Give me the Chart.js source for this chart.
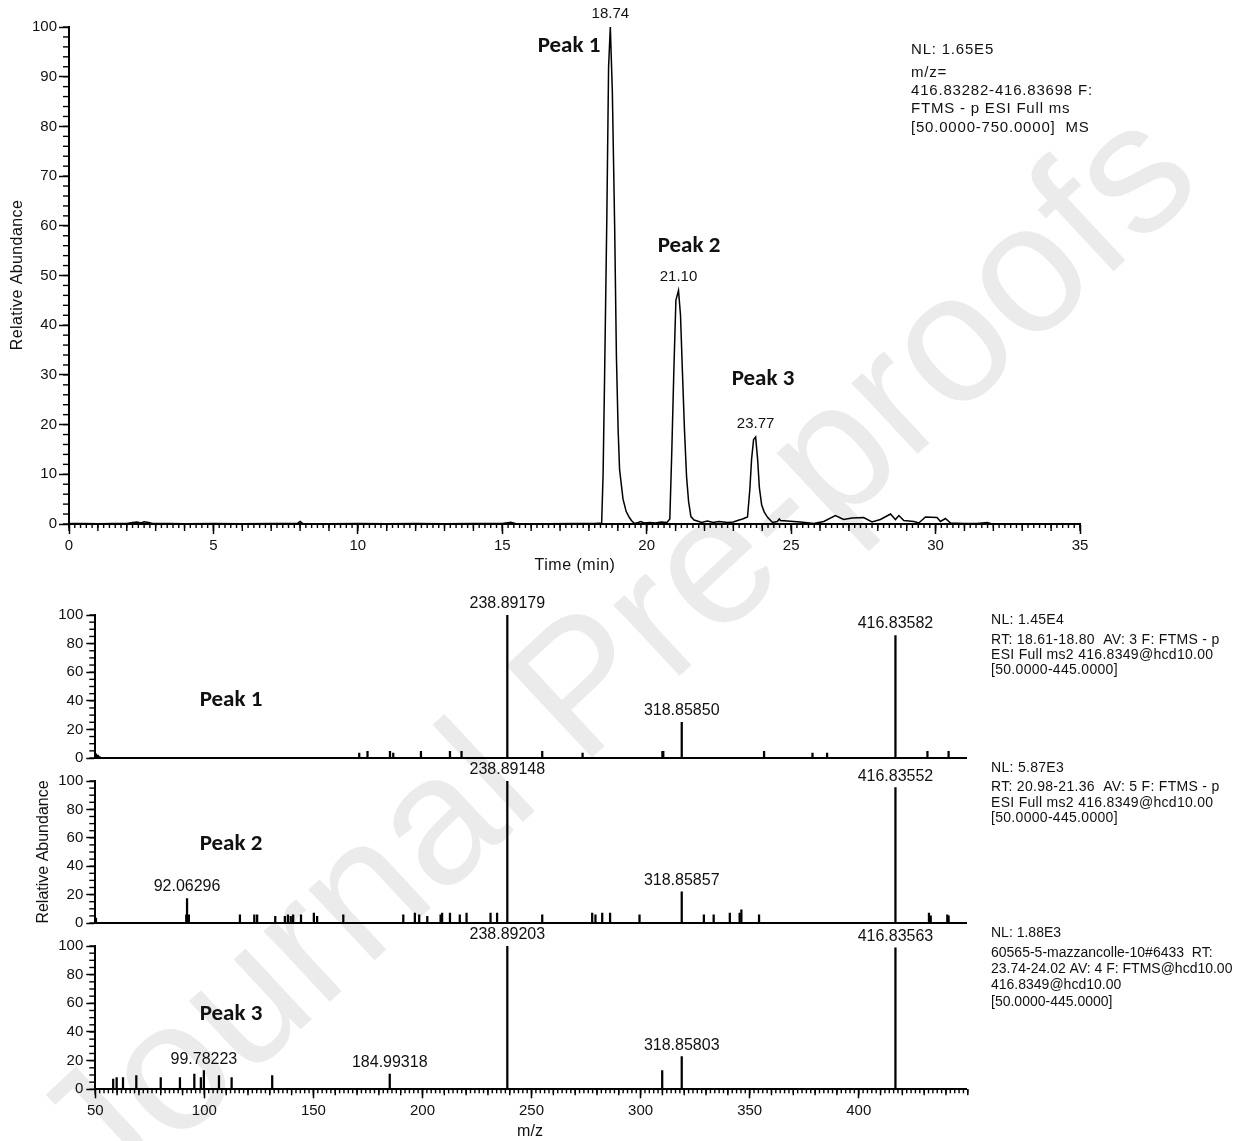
<!DOCTYPE html>
<html><head><meta charset="utf-8">
<script src="https://cdn.jsdelivr.net/npm/chart.js@4.4.1/dist/chart.umd.min.js"></script>
<style>
html,body{margin:0;padding:0;background:#fff;width:1243px;height:1141px;overflow:hidden;}
#wm{position:absolute;left:0;top:0;width:1243px;height:1141px;overflow:hidden;}
#wm span{position:absolute;left:612px;top:652px;transform:translate(-50%,-50%) rotate(-43deg);font:183px 'Liberation Sans',Arial,sans-serif;color:#ebebeb;white-space:nowrap;line-height:1;}
canvas{position:absolute;left:0;}
</style></head><body>
<div id="wm"><span>Journal Pre-proofs</span></div>
<canvas id="chrom" width="1243" height="585" style="top:0"></canvas>
<canvas id="ms1" width="1243" height="180" style="top:590px"></canvas>
<canvas id="ms2" width="1243" height="180" style="top:755px"></canvas>
<canvas id="ms3" width="1243" height="221" style="top:920px"></canvas>
<script>
// ---------- Chromatogram (XIC) ----------
const rtMin = [0.0,0.5,1.0,1.5,2.0,2.2,2.35,2.5,2.6,2.75,2.9,3.5,4.0,5.0,6.0,7.0,7.9,8.0,8.1,9.0,10.0,11.0,12.0,13.0,14.0,15.0,15.3,15.45,16.5,17.5,18.2,
  18.44,18.49,18.54,18.62,18.68,18.74,18.81,18.89,18.95,19.01,19.06,19.18,19.29,19.40,19.47,19.58,19.7,19.8,19.9,20.1,20.3,20.5,20.7,
  20.80,20.87,20.94,21.01,21.10,21.17,21.24,21.31,21.38,21.45,21.53,21.64,21.75,21.9,22.1,22.3,22.5,22.8,23.0,23.2,
  23.32,23.49,23.57,23.63,23.70,23.77,23.84,23.90,23.98,24.07,24.19,24.36,24.52,24.59,24.63,25.32,25.78,26.13,26.53,26.82,27.11,27.51,27.80,
  28.09,28.44,28.61,28.73,28.90,29.25,29.42,29.65,30.05,30.17,30.34,30.52,30.98,31.44,31.79,31.96];
const relAbund = [0.1,0.1,0.05,0.1,0.1,0.3,0.4,0.2,0.45,0.3,0.1,0.1,0.05,0.1,0.05,0.1,0.1,0.5,0.1,0.05,0.1,0.05,0.1,0.05,0.1,0.1,0.35,0.1,0.05,0.1,0.1,
  0.2,10,29,62,92,100,87,60,34,19,11,5,2.5,1.3,0.7,0.1,0.3,0.5,0.2,0.3,0.2,0.4,0.3,
  1,15,31,45,47,42,30,18.5,9.5,4.5,1.5,0.8,0.6,0.3,0.6,0.3,0.5,0.3,0.4,0.8,
  1,1.4,7,13,17,17.5,13,7.3,3.8,2.4,1.3,0.3,0.5,1.0,0.7,0.4,0.1,0.5,1.7,0.9,1.2,1.3,0.4,
  0.9,2.0,0.9,1.7,0.7,0.5,0.2,1.4,1.3,0.5,1.1,0.2,0.1,0.1,0.3,0];
const peakRTLabels = ['18.74','21.10','23.77'];
const peakNames = ['Peak 1','Peak 2','Peak 3'];
const chromInfo = ['NL: 1.65E5','m/z=','416.83282-416.83698 F:','FTMS - p ESI Full ms','[50.0000-750.0000]  MS'];
const rtTickValues = [0,5,10,15,20,25,30,35];
const xicAbundTicks = [0,10,20,30,40,50,60,70,80,90,100];

// ---------- MS2 spectra ----------
const ms1Mz  = [50.3,51.2,52.0,171.0,174.8,185.1,186.6,199.3,212.6,217.9,238.89179,254.9,273.4,310.0,310.4,318.85850,356.6,378.8,385.5,416.83582,431.5,441.2];
const ms1Int = [3.0,2.0,1.0,3.5,4.6,4.6,3.5,4.6,4.6,4.6,100,4.6,3.5,4.6,4.6,24.9,4.6,3.5,3.5,85.6,4.6,4.6];
const ms1Labels = ['238.89179','318.85850','416.83582'];
const ms1Info = ['NL: 1.45E4','RT: 18.61-18.80  AV: 3 F: FTMS - p','ESI Full ms2 416.8349@hcd10.00','[50.0000-445.0000]'];

const ms2Mz  = [50.3,91.7,92.06296,92.9,116.3,122.9,124.2,132.5,136.9,138.3,139.6,140.7,144.3,150.2,151.7,163.7,191.2,196.5,198.5,202.2,208.3,209.0,212.6,217.1,220.2,231.2,234.2,
  238.89148,254.9,277.8,279.3,282.4,286.0,299.5,318.85857,329.0,333.5,340.9,345.4,346.2,354.3,416.83552,432.2,433.0,440.6,441.2];
const ms2Int = [3.5,5.8,17.2,5.8,5.8,5.8,5.8,4.7,4.7,5.8,4.7,5.8,5.8,7.0,4.7,5.8,5.8,7.0,5.8,4.7,5.8,7.0,7.0,5.8,7.0,7.0,7.0,
  100,5.8,7.0,5.8,7.0,7.0,5.8,21.9,5.8,5.8,7.0,7.0,9.3,5.8,95.3,7.0,5.1,5.8,5.1];
const ms2Labels = ['92.06296','238.89148','318.85857','416.83552'];
const ms2Info = ['NL: 5.87E3','RT: 20.98-21.36  AV: 5 F: FTMS - p','ESI Full ms2 416.8349@hcd10.00','[50.0000-445.0000]'];

const ms3Mz  = [58.2,59.8,62.7,68.8,80.0,88.8,95.4,98.4,99.78223,106.7,112.5,131.1,184.99318,238.89203,309.9,318.85803,416.83563];
const ms3Int = [7.2,8.1,8.1,9.5,8.1,8.1,10.7,8.1,13.0,9.5,8.1,9.5,10.7,100,13.0,22.8,98.8];
const ms3Labels = ['99.78223','184.99318','238.89203','318.85803','416.83563'];
const ms3Info = ['NL: 1.88E3','60565-5-mazzancolle-10#6433  RT:','23.74-24.02 AV: 4 F: FTMS@hcd10.00','416.8349@hcd10.00','[50.0000-445.0000]'];

const mzTickValues = [50,100,150,200,250,300,350,400];
const msAbundTicks = [0,20,40,60,80,100];

// ---------- helpers ----------
const FAM = "'Liberation Sans', Arial, sans-serif";
const BOLD = "bold 23px Carlito, Lato, 'Open Sans', sans-serif";
const decor = {
  id: 'decor',
  afterDraw(chart, args, o) {
    const ctx = chart.ctx;
    ctx.save();
    ctx.strokeStyle = '#000';
    ctx.lineWidth = 1.4;
    (o.minor || []).forEach(m => {
      const sc = chart.scales[m.axis];
      const n = Math.round((sc.max - sc.min) / m.step);
      for (let i = 0; i <= n; i++) {
        const v = sc.min + i * m.step;
        const p = sc.getPixelForValue(v);
        ctx.beginPath();
        if (m.axis === 'x') { ctx.moveTo(p, sc.top); ctx.lineTo(p, sc.top + m.len); }
        else { ctx.moveTo(sc.right, p); ctx.lineTo(sc.right - m.len, p); }
        ctx.stroke();
      }
    });
    ctx.fillStyle = '#111';
    (o.texts || []).forEach(t => {
      ctx.save();
      ctx.font = t.font;
      ctx.letterSpacing = t.ls || '0px';
      ctx.textAlign = t.align || 'left';
      ctx.textBaseline = 'middle';
      ctx.translate(t.x, t.y);
      if (t.rot) ctx.rotate(t.rot);
      ctx.fillText(t.text, 0, 0);
      ctx.restore();
    });
    if (o.anchor) {
      const xs = chart.scales.x, ys = chart.scales.y;
      o.anchor.labels.forEach(lab => {
        const target = parseFloat(lab);
        let best = 0;
        o.anchor.xs.forEach((v, i) => {
          if (Math.abs(v - target) < Math.abs(o.anchor.xs[best] - target)) best = i;
        });
        const cand = o.anchor.ys;
        let idx = best;
        if (o.anchor.peakSearch) {
          o.anchor.xs.forEach((v, i) => { if (Math.abs(v - target) < 0.1 && cand[i] > cand[idx]) idx = i; });
        }
        ctx.font = o.anchor.font;
        ctx.letterSpacing = '0px';
        ctx.textAlign = 'center';
        ctx.textBaseline = 'middle';
        ctx.fillText(lab, xs.getPixelForValue(target), ys.getPixelForValue(cand[idx]) + o.anchor.dy);
      });
    }
    ctx.restore();
  }
};
Chart.register(decor);

function axisCommon(size, tickLen, pad, values) {
  return {
    border: { display: true, color: '#000', width: 2 },
    grid: { display: true, drawOnChartArea: false, drawTicks: true, tickLength: tickLen, tickColor: '#000', tickWidth: 1.5, offset: false },
    ticks: { color: '#111', font: { family: FAM, size: size }, padding: pad, maxRotation: 0, autoSkip: false },
    afterBuildTicks: s => { s.ticks = values.map(v => ({ value: v })); }
  };
}

// ---------- Chromatogram ----------
(function () {
  const W = 1243, H = 585, L = 69, T = 27, R = 1080, B = 524;
  const x = axisCommon(15, 10, 3, rtTickValues);
  Object.assign(x, { type: 'linear', min: 0, max: 35, afterFit: s => { s.height = H - B; } });
  const y = axisCommon(15, 10, 2, xicAbundTicks);
  Object.assign(y, { type: 'linear', min: 0, max: 100, afterFit: s => { s.width = L; } });
  const texts = [
    { text: 'Relative Abundance', x: 18, y: 275, rot: -Math.PI / 2, align: 'center', font: '16px ' + FAM, ls: '0.4px' },
    { text: 'Time (min)', x: 575, y: 566, align: 'center', font: '16px ' + FAM, ls: '0.5px' },
    { text: peakNames[0], x: 569, y: 46, align: 'center', font: BOLD },
    { text: peakNames[1], x: 689, y: 246, align: 'center', font: BOLD },
    { text: peakNames[2], x: 763, y: 379, align: 'center', font: BOLD }
  ];
  const infoY = [50, 72.7, 90.7, 109.3, 127.7];
  chromInfo.forEach((s, i) => texts.push({ text: s, x: 911, y: infoY[i], font: '15px ' + FAM, ls: '0.8px' }));
  new Chart(document.getElementById('chrom'), {
    type: 'line',
    data: { datasets: [{ data: rtMin.map((t, i) => ({ x: t, y: relAbund[i] })), borderColor: '#000', borderWidth: 1.5, pointRadius: 0, tension: 0, fill: false }] },
    options: {
      responsive: false, animation: false, events: [],
      layout: { padding: { left: 0, top: T, right: W - R, bottom: 0 } },
      plugins: {
        legend: { display: false }, tooltip: { enabled: false },
        decor: {
          minor: [{ axis: 'x', step: 0.2, len: 4 }, { axis: 'x', step: 1, len: 7 }, { axis: 'y', step: 2, len: 6 }],
          texts: texts,
          anchor: { labels: peakRTLabels, xs: rtMin, ys: relAbund, dy: -13.5, font: '15px ' + FAM, peakSearch: true }
        }
      },
      scales: { x: x, y: y }
    }
  });
})();

// ---------- Spectra ----------
function spectrum(id, H, T, B, mz, inten, labels, info, infoY, infoLS, peakName, peakY, showX, extra) {
  const W = 1243, L = 95.3, R = 966.7;
  const x = axisCommon(15, 9, 4, mzTickValues);
  Object.assign(x, { type: 'linear', min: 50, max: 449.5, offset: false, afterFit: s => { s.height = H - B; } });
  if (!showX) { x.grid.display = false; x.ticks.display = false; }
  const y = axisCommon(15, 9, 3, msAbundTicks);
  Object.assign(y, { type: 'linear', min: 0, max: 100, afterFit: s => { s.width = L; } });
  const texts = [{ text: peakName, x: 231, y: peakY, align: 'center', font: BOLD }];
  info.forEach((s, i) => texts.push({ text: s, x: 991, y: infoY[i], font: '14px ' + FAM, ls: infoLS }));
  (extra || []).forEach(e => texts.push(e));
  const minor = [{ axis: 'y', step: 5, len: 6 }];
  if (showX) { minor.push({ axis: 'x', step: 2, len: 4 }, { axis: 'x', step: 10, len: 6 }); }
  new Chart(document.getElementById(id), {
    type: 'bar',
    data: { datasets: [{ data: mz.map((m, i) => ({ x: m, y: inten[i] })), backgroundColor: '#000', barThickness: 1.6, borderWidth: 0 }] },
    options: {
      responsive: false, animation: false, events: [],
      layout: { padding: { left: 0, top: T, right: W - R, bottom: 0 } },
      plugins: {
        legend: { display: false }, tooltip: { enabled: false },
        decor: {
          minor: minor, texts: texts,
          anchor: { labels: labels, xs: mz, ys: inten, dy: -11.5, font: '16px ' + FAM }
        }
      },
      scales: { x: x, y: y }
    }
  });
}
spectrum('ms1', 180, 25, 168.3, ms1Mz, ms1Int, ms1Labels, ms1Info, [30, 50, 65, 80], '0.3px', peakNames[0], 110, false);
spectrum('ms2', 180, 26, 169, ms2Mz, ms2Int, ms2Labels, ms2Info, [13.3, 31.7, 47.7, 63.3], '0.3px', peakNames[1], 89, false,
  [{ text: 'Relative Abundance', x: 44, y: 97, rot: -Math.PI / 2, align: 'center', font: '16px ' + FAM }]);
spectrum('ms3', 221, 26, 169.3, ms3Mz, ms3Int, ms3Labels, ms3Info, [13.3, 33.3, 49.3, 65, 81.7], '0px', peakNames[2], 94, true,
  [{ text: 'm/z', x: 530, y: 212, align: 'center', font: '16px ' + FAM }]);
</script>
</body></html>
